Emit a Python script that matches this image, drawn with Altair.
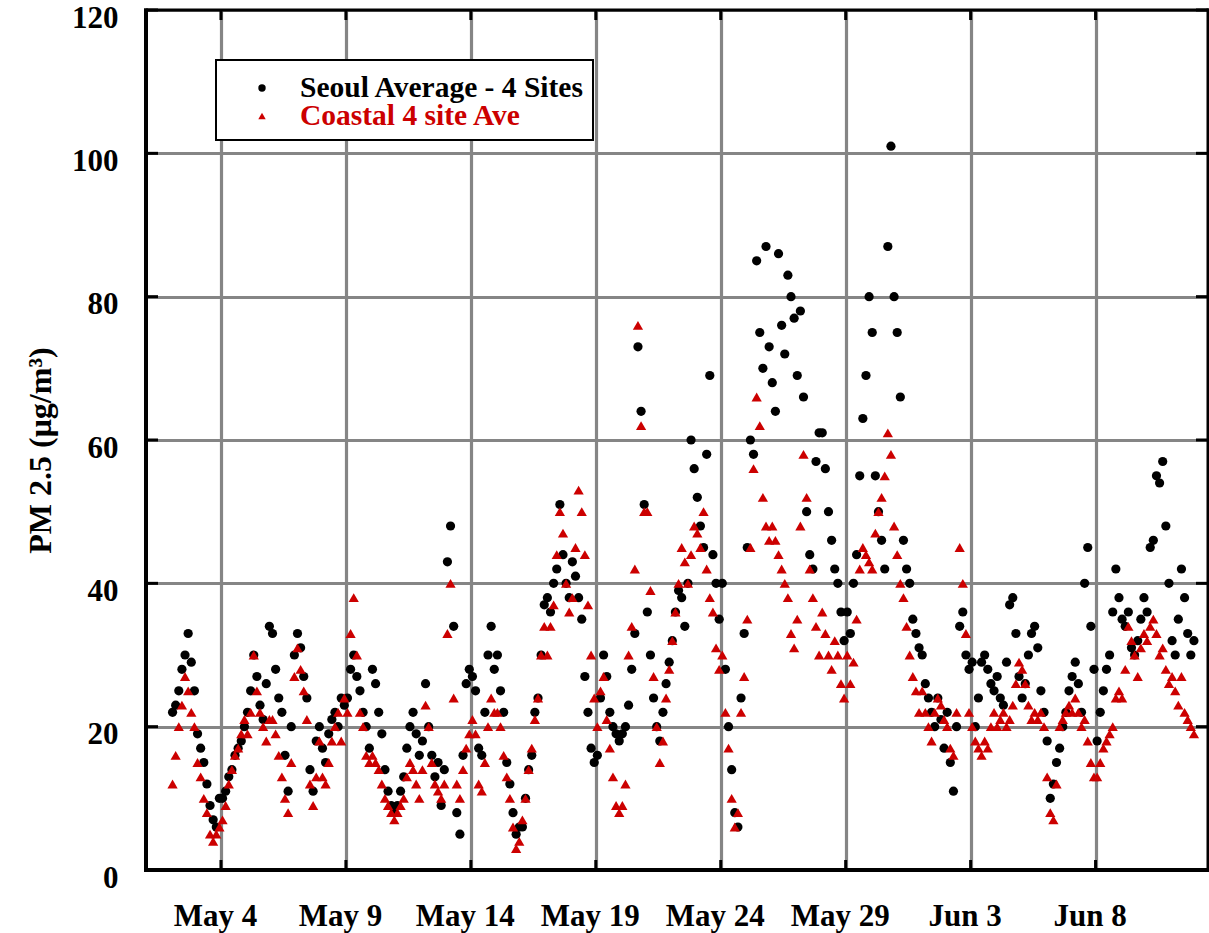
import altair as alt
import pandas as pd

# ---------------- data (3-hourly values, May 2 .. Jun 11) ----------------
first_day = 1          # days after May 1 00:00 of the first sample day (May 2)
samples_per_day = 8

seoul = [
    22, 23, 25, 28, 30, 33, 29, 25,   # May 2
    19, 17, 15, 12, 9, 7, 6, 10,      # May 3
    10, 11, 13, 14, 16, 17, 18, 20,   # May 4
    22, 25, 30, 27, 23, 21, 26, 34,   # May 5
    33, 28, 24, 22, 16, 11, 20, 30,   # May 6
    33, 31, 27, 24, 14, 11, 18, 20,   # May 7
    17, 15, 19, 21, 22, 20, 24, 23,   # May 8
    24, 28, 30, 27, 25, 22, 20, 17,   # May 9
    28, 26, 22, 19, 14, 11, 9, 8,     # May 10
    9, 11, 13, 17, 20, 22, 19, 16,    # May 11
    18, 26, 20, 16, 13, 15, 9, 14,    # May 12
    43, 48, 34, 8, 5, 16, 26, 28,     # May 13
    27, 25, 17, 16, 22, 30, 34, 28,   # May 14
    30, 25, 22, 15, 12, 8, 5, 6,      # May 15
    6, 10, 14, 16, 22, 24, 30, 37,    # May 16
    38, 36, 40, 42, 51, 44, 40, 38,   # May 17
    43, 41, 38, 35, 27, 22, 17, 15,   # May 18
    16, 24, 30, 27, 22, 20, 19, 18,   # May 19
    19, 20, 23, 28, 33, 73, 64, 51,   # May 20
    36, 30, 24, 20, 18, 22, 26, 29,   # May 21
    32, 36, 39, 38, 34, 40, 60, 56,   # May 22
    52, 48, 45, 58, 69, 44, 40, 35,   # May 23
    40, 28, 20, 14, 8, 6, 24, 33,     # May 24
    45, 60, 58, 85, 75, 70, 87, 73,   # May 25
    68, 64, 86, 76, 72, 83, 80, 77,   # May 26
    69, 78, 66, 50, 44, 42, 57, 61,   # May 27
    61, 56, 50, 46, 42, 40, 36, 32,   # May 28
    36, 33, 40, 44, 55, 63, 69, 80,   # May 29
    75, 55, 50, 46, 42, 87, 101, 80,  # May 30
    75, 66, 46, 42, 40, 35, 33, 31,   # May 31
    30, 26, 24, 22, 20, 24, 21, 17,   # Jun 1
    22, 15, 11, 20, 34, 36, 30, 28,   # Jun 2
    29, 20, 24, 29, 30, 28, 26, 25,   # Jun 3
    27, 24, 23, 29, 37, 38, 33, 27,   # Jun 4
    24, 26, 30, 33, 34, 31, 25, 22,   # Jun 5
    18, 10, 12, 15, 17, 20, 22, 25,   # Jun 6
    27, 29, 26, 22, 40, 45, 34, 28,   # Jun 7
    18, 22, 25, 28, 30, 36, 42, 38,   # Jun 8
    35, 34, 36, 31, 30, 32, 35, 38,   # Jun 9
    36, 45, 46, 55, 54, 57, 48, 40,   # Jun 10
    32, 30, 35, 42, 38, 33, 30, 32,   # Jun 11
]

coastal = [
    12, 16, 20, 23, 27, 25, 22, 20,   # May 2
    15, 13, 10, 8, 5, 4, 5, 6,        # May 3
    7, 9, 12, 14, 16, 17, 19, 21,     # May 4
    19, 22, 30, 25, 22, 20, 18, 21,   # May 5
    21, 19, 16, 13, 10, 8, 15, 27,    # May 6
    31, 28, 25, 21, 12, 9, 13, 18,    # May 7
    13, 12, 15, 18, 20, 22, 18, 24,   # May 8
    22, 33, 38, 30, 22, 20, 16, 15,   # May 9
    16, 15, 14, 12, 10, 9, 8, 7,      # May 10
    8, 9, 10, 13, 15, 14, 12, 10,     # May 11
    14, 23, 20, 15, 12, 11, 10, 12,   # May 12
    33, 40, 24, 12, 10, 14, 17, 19,   # May 13
    21, 19, 12, 11, 15, 20, 24, 22,   # May 14
    22, 20, 16, 13, 10, 6, 3, 4,      # May 15
    7, 10, 14, 17, 21, 24, 30, 34,    # May 16
    30, 34, 37, 44, 50, 47, 40, 36,   # May 17
    38, 45, 53, 50, 44, 37, 30, 24,   # May 18
    20, 25, 27, 21, 17, 13, 9, 8,     # May 19
    9, 12, 30, 34, 42, 76, 62, 50,    # May 20
    50, 39, 27, 20, 15, 18, 24, 28,   # May 21
    32, 36, 40, 45, 43, 40, 44, 48,   # May 22
    47, 45, 50, 42, 38, 36, 31, 28,   # May 23
    30, 22, 17, 10, 6, 8, 22, 27,     # May 24
    35, 45, 56, 66, 62, 52, 48, 46,   # May 25
    48, 46, 44, 42, 40, 38, 33, 31,   # May 26
    35, 48, 58, 52, 42, 38, 34, 30,   # May 27
    36, 33, 30, 28, 32, 30, 26, 24,   # May 28
    30, 26, 29, 35, 42, 45, 44, 43,   # May 29
    42, 47, 50, 52, 55, 61, 58, 48,   # May 30
    44, 40, 38, 34, 30, 27, 25, 22,   # May 31
    25, 22, 20, 18, 22, 24, 23, 21,   # Jun 1
    20, 17, 16, 22, 45, 40, 33, 22,   # Jun 2
    20, 18, 17, 16, 18, 17, 20, 22,   # Jun 3
    20, 21, 22, 20, 21, 23, 26, 29,   # Jun 4
    28, 26, 23, 21, 22, 21, 22, 20,   # Jun 5
    13, 8, 7, 12, 20, 21, 22, 23,     # Jun 6
    22, 24, 22, 20, 21, 18, 15, 13,   # Jun 7
    13, 15, 17, 18, 19, 20, 24, 25,   # Jun 8
    24, 28, 34, 32, 30, 27, 31, 33,   # Jun 9
    32, 34, 35, 33, 30, 31, 28, 26,   # Jun 10
    27, 25, 23, 27, 22, 21, 20, 19,   # Jun 11
]

tick_days = [3, 8, 13, 18, 23, 28, 33, 38]
tick_labels = ["May 4", "May 9", "May 14", "May 19", "May 24", "May 29", "Jun 3", "Jun 8"]
y_ticks = [0, 20, 40, 60, 80, 100, 120]
series_names = ["Seoul Average - 4 Sites", "Coastal 4 site Ave"]
series_colors = ["#000000", "#cc0000"]
x_domain = [0, 42.5]
y_domain = [0, 120]
y_title = "PM 2.5 (\u03bcg/m\u00b3)"

# ---------------- layout ----------------
W, H = 1062, 860
FONT = "Liberation Serif"

def times(n):
    return [first_day + (i + 0.5) / samples_per_day for i in range(n)]

df_seoul = pd.DataFrame({"day": times(len(seoul)), "pm": seoul})
df_coast = pd.DataFrame({"day": times(len(coastal)), "pm": coastal})
df_xt = pd.DataFrame({"day": tick_days})
df_yt = pd.DataFrame({"pm": y_ticks})
one = pd.DataFrame({"k": [0]})

label_expr = "[{}][indexof([{}], datum.value)]".format(
    ",".join("'%s'" % s for s in tick_labels), ",".join(str(d) for d in tick_days))

xscale = alt.Scale(domain=x_domain, nice=False, zero=False)
yscale = alt.Scale(domain=y_domain, nice=False, zero=True)

grid_kw = dict(grid=True, gridColor="#858585", gridWidth=3.2, gridOpacity=1,
               domain=False, ticks=False, tickSize=0, labelFont=FONT, labelFontWeight="bold",
               labelColor="black", labelFlush=False, labelOverlap=False)

x_axis = alt.Axis(values=tick_days, labelExpr=label_expr, labelFontSize=31, labelPadding=55,
                  labelBaseline="alphabetic", labelAlign="center", labelOffset=-6, title=None, **grid_kw)
y_axis = alt.Axis(values=y_ticks, labelFontSize=31, labelPadding=28, labelAlign="right",
                  labelBaseline="alphabetic", labelOffset=17, format="d",
                  title=y_title, titleFont=FONT, titleFontSize=32, titleFontWeight="bold",
                  titleColor="black", titleAngle=270, titleX=-96, titleY=440,
                  titleAlign="center", titleBaseline="alphabetic", **grid_kw)

seoul_layer = alt.Chart(df_seoul).mark_point(filled=True, shape="circle", size=85, opacity=1,
                                             strokeWidth=0, color=series_colors[0]).encode(
    x=alt.X("day:Q", scale=xscale, axis=x_axis),
    y=alt.Y("pm:Q", scale=yscale, axis=y_axis),
)
coast_layer = alt.Chart(df_coast).mark_point(filled=True, shape="triangle-up", size=105, opacity=1,
                                             strokeWidth=0, color=series_colors[1]).encode(
    x=alt.X("day:Q", scale=xscale),
    y=alt.Y("pm:Q", scale=yscale),
)

# inward ticks
tick_bottom = alt.Chart(df_xt).mark_rule(color="black", strokeWidth=3).encode(
    x="day:Q", y=alt.value(H), y2=alt.value(H - 10))
tick_top = alt.Chart(df_xt).mark_rule(color="black", strokeWidth=3).encode(
    x="day:Q", y=alt.value(0), y2=alt.value(10))
tick_left = alt.Chart(df_yt).mark_rule(color="black", strokeWidth=3).encode(
    y="pm:Q", x=alt.value(0), x2=alt.value(12))
tick_right = alt.Chart(df_yt).mark_rule(color="black", strokeWidth=3).encode(
    y="pm:Q", x=alt.value(W), x2=alt.value(W - 12))

# frame
frame_left = alt.Chart(one).mark_rule(color="black", strokeWidth=4).encode(
    x=alt.value(0), y=alt.value(-1.5), y2=alt.value(H + 2))
frame_bottom = alt.Chart(one).mark_rule(color="black", strokeWidth=4).encode(
    y=alt.value(H), x=alt.value(-2), x2=alt.value(W + 1.5))
frame_top = alt.Chart(one).mark_rule(color="black", strokeWidth=3).encode(
    y=alt.value(0), x=alt.value(-2), x2=alt.value(W + 1.5))
frame_right = alt.Chart(one).mark_rule(color="black", strokeWidth=3).encode(
    x=alt.value(W), y=alt.value(-1.5), y2=alt.value(H + 2))

# legend
leg_box = alt.Chart(one).mark_rect(fill="white", stroke="black", strokeWidth=2).encode(
    x=alt.value(70), x2=alt.value(447), y=alt.value(50), y2=alt.value(130))
leg_dot = alt.Chart(one).mark_point(filled=True, shape="circle", size=55, opacity=1, strokeWidth=0,
                                    color=series_colors[0]).encode(x=alt.value(116), y=alt.value(78))
leg_tri = alt.Chart(one).mark_point(filled=True, shape="triangle-up", size=55, opacity=1, strokeWidth=0,
                                    color=series_colors[1]).encode(x=alt.value(116), y=alt.value(106))
leg_t1 = alt.Chart(one).mark_text(text=series_names[0], align="left", baseline="alphabetic",
                                  font=FONT, fontSize=29.5, fontWeight="bold",
                                  color=series_colors[0]).encode(x=alt.value(154), y=alt.value(87))
leg_t2 = alt.Chart(one).mark_text(text=series_names[1], align="left", baseline="alphabetic",
                                  font=FONT, fontSize=29.5, fontWeight="bold",
                                  color=series_colors[1]).encode(x=alt.value(154), y=alt.value(115))

chart = alt.layer(
    seoul_layer, coast_layer,
    tick_bottom, tick_top, tick_left, tick_right,
    frame_left, frame_bottom, frame_top, frame_right,
    leg_box, leg_dot, leg_tri, leg_t1, leg_t2,
).properties(
    width=W, height=H,
    padding={"left": 146, "top": 10, "right": 1, "bottom": 63},
    autosize=alt.AutoSizeParams(type="none"),
).configure(background="white").configure_view(stroke=None)

chart.save("out.html", embed_options={"renderer": "svg", "actions": False})
